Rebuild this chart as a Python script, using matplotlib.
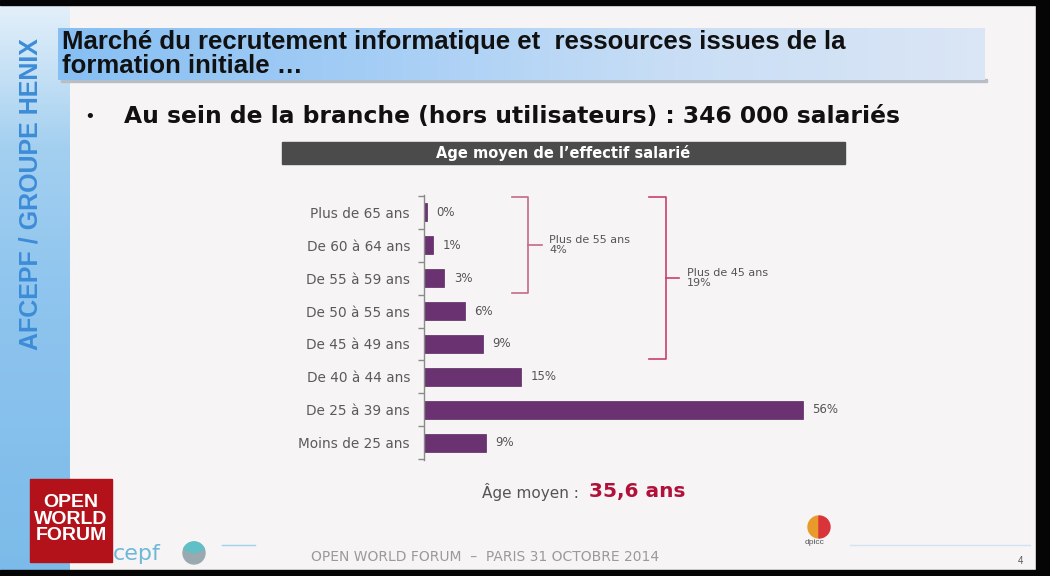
import matplotlib
matplotlib.use("Agg")
import matplotlib.pyplot as plt
import numpy as np
from matplotlib.patches import Rectangle, Circle, Wedge

# ---------------- data ----------------
categories = ["Plus de 65 ans", "De 60 à 64 ans", "De 55 à 59 ans", "De 50 à 55 ans",
              "De 45 à 49 ans", "De 40 à 44 ans", "De 25 à 39 ans", "Moins de 25 ans"]
values = [0.4, 1.3, 3.0, 6.0, 8.7, 14.3, 56.0, 9.2]
value_labels = ["0%", "1%", "3%", "6%", "9%", "15%", "56%", "9%"]
groups = [("Plus de 55 ans\n4%", 0, 2), ("Plus de 45 ans\n19%", 0, 4)]

slide_title = "Marché du recrutement informatique et  ressources issues de la\nformation initiale …"
bullet_text = "Au sein de la branche (hors utilisateurs) : 346 000 salariés"
chart_title = "Age moyen de l’effectif salarié"
side_text = "AFCEPF / GROUPE HENIX"
footer_text = "OPEN WORLD FORUM  –  PARIS 31 OCTOBRE 2014"

W, H = 1050, 576
fig = plt.figure(figsize=(W / 100, H / 100), dpi=100)
fig.patch.set_facecolor("#f7f4f6")

def fx(px):
    return px / W

def fy(py):
    return 1 - py / H

arial = ["Liberation Sans", "DejaVu Sans"]
wide = ["DejaVu Sans"]

# background frame
bg = fig.add_axes([0, 0, 1, 1], zorder=-10)
bg.axis("off")
bg.add_patch(Rectangle((0, 0), W, H, color="#f7f4f6"))
grad = np.linspace(0, 1, 256).reshape(-1, 1)
bg.imshow(grad, extent=[0, 70, 570, 4], cmap=matplotlib.colors.LinearSegmentedColormap.from_list(
    "sb", ["#e4f0fa", "#a4d0f0", "#8fc5ee", "#86c0ec", "#7cbbe9"]), aspect="auto", zorder=1)
bg.add_patch(Rectangle((0, 0), W, 5, color="#050505", zorder=5))
bg.add_patch(Rectangle((1036, 0), 14, H, color="#050505", zorder=5))
bg.add_patch(Rectangle((0, 570), W, 6, color="#050505", zorder=5))
bgrad = np.linspace(0, 1, 256).reshape(1, -1)
bg.imshow(bgrad, extent=[58, 985, 80, 28], cmap=matplotlib.colors.LinearSegmentedColormap.from_list(
    "tb", ["#86bff3", "#a4cdf5", "#c9def6", "#dbe6f5"]), aspect="auto", zorder=2)
bg.add_patch(Rectangle((61, 79), 926, 3, color="#b9bdc6", zorder=1))
bg.add_patch(Rectangle((282, 142), 563, 22, color="#4b4b4b", zorder=3))
bg.plot([850, 1030], [545, 545], color="#cfe3f2", lw=1, zorder=2)
bg.plot([222, 255], [545, 545], color="#9fd2ee", lw=1, zorder=2)
# Open World Forum logo box and small logos
bg.add_patch(Rectangle((30, 479), 82, 83, color="#b3121a", zorder=6))
bg.add_patch(Circle((194, 553), 11, color="#9aa8b0", zorder=3))
bg.add_patch(Wedge((194, 553), 11, 200, 340, color="#5fc0c8", zorder=4))
bg.add_patch(Wedge((819, 527), 11, 90, 270, color="#e89a2a", zorder=3))
bg.add_patch(Wedge((819, 527), 11, -90, 90, color="#d8343a", zorder=3))
bg.set_xlim(0, W)
bg.set_ylim(H, 0)

# side vertical text
fig.text(fx(31), fy(194), side_text, rotation=90, ha="center", va="center",
         color="#3d8cd8", fontsize=18, fontweight="bold", family=arial)

# slide title
fig.text(fx(62), fy(54), slide_title, ha="left", va="center", color="#111111",
         fontsize=18.5, fontweight="bold", family=arial, linespacing=0.95)

# bullet
fig.text(fx(86), fy(117), "•", ha="left", va="center", fontsize=14, color="#111111",
         family=arial)
fig.text(fx(124), fy(117), bullet_text, ha="left", va="center", fontsize=16.8,
         fontweight="bold", color="#111111", family=wide)

# chart title
fig.text(fx(563), fy(153), chart_title, ha="center", va="center", color="white",
         fontsize=10.5, fontweight="bold", family=wide)

# ---------------- bar chart ----------------
px_per_unit = 379 / 56.0
x_left, x_right = 424, 860
y_top, y_bot = 195, 460
ax = fig.add_axes([fx(x_left), fy(y_bot), (x_right - x_left) / W, (y_bot - y_top) / H])
ax.patch.set_alpha(0)
y = np.arange(len(categories))
ax.barh(y, values, height=0.55, color="#6b3272", edgecolor="#5a2860", linewidth=0.5)
ax.set_xlim(0, (x_right - x_left) / px_per_unit)
ax.set_ylim(len(categories) - 0.48, -0.52)
for s in ["top", "right", "bottom"]:
    ax.spines[s].set_visible(False)
ax.spines["left"].set_color("#8a8a8a")
ax.spines["left"].set_linewidth(1)
ax.set_xticks([])
ax.set_yticks(y)
ax.set_yticklabels(categories, fontsize=9.8, color="#5a5a5a", family=wide)
ax.tick_params(axis="y", length=0, pad=10)
ax.set_yticks(np.arange(-0.5, len(categories), 1.0), minor=True)
ax.tick_params(axis="y", which="minor", length=4, color="#8a8a8a", width=1)
for yi, v, lab in zip(y, values, value_labels):
    ax.text(v + 1.4, yi, lab, va="center", ha="left", fontsize=8.5, color="#555555",
            family=wide)

# brackets
bracket_colors = ["#c46a88", "#c8406a"]
for (label, i0, i1), xb, bc in zip(groups, [15.4, 35.7], bracket_colors):
    top, bot = i0 - 0.45, i1 + 0.45
    mid = (top + bot) / 2
    kw = dict(color=bc, lw=1.2, clip_on=False)
    ax.plot([xb - 2.4, xb, xb, xb - 2.4], [top, top, bot, bot], **kw)
    ax.plot([xb, xb + 2.0], [mid, mid], **kw)
    ax.text(xb + 3.1, mid, label, ha="left", va="center", fontsize=8,
            color="#555555", family=wide, linespacing=1.1)

# average age
fig.text(fx(584), fy(492), "Âge moyen : ", ha="right", va="center", fontsize=11,
         color="#555555", family=wide)
fig.text(fx(589), fy(491), "35,6 ans", ha="left", va="center", fontsize=14.5,
         fontweight="bold", color="#b0103a", family=wide)

# footer
fig.text(fx(485), fy(557), footer_text, ha="center", va="center", fontsize=10,
         color="#9a9a9a", family=wide)
fig.text(fx(1020), fy(561), "4", ha="center", va="center", fontsize=7,
         color="#555555", family=arial)

# logo texts
fig.text(fx(71), fy(519), "OPEN\nWORLD\nFORUM", ha="center", va="center",
         color="white", fontsize=14, fontweight="bold", family=arial,
         linespacing=0.95, zorder=7)
fig.text(fx(113), fy(554), "cepf", ha="left", va="center", fontsize=16,
         color="#6fb8d8", family=wide)
fig.text(fx(815), fy(542), "dpicc", ha="center", va="center", fontsize=6,
         color="#555555", family=arial)

fig.savefig("out.png", dpi=100, facecolor=fig.get_facecolor())
